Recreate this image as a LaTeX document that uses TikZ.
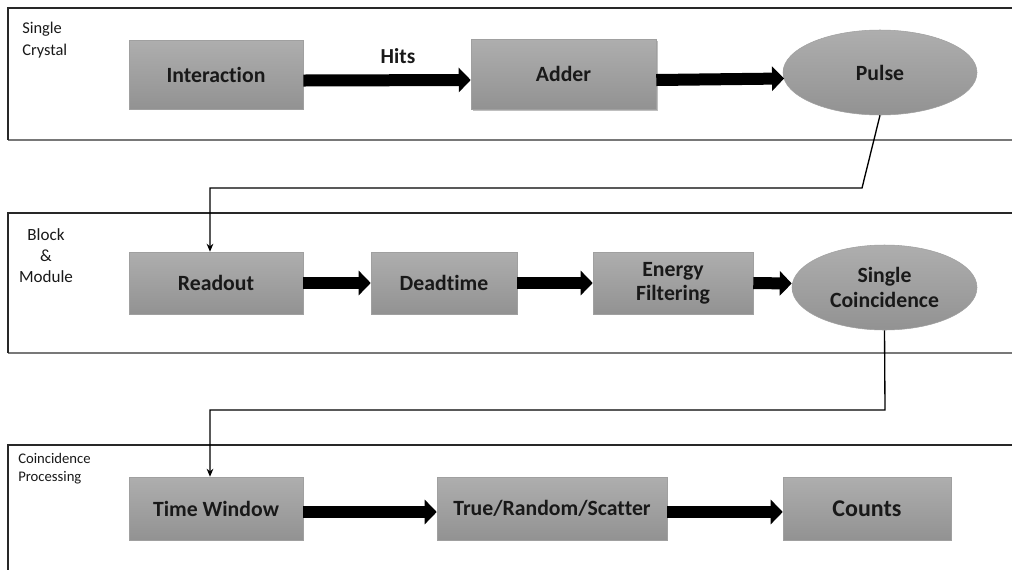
\documentclass[tikz,border=0pt]{standalone}
\usepackage{fontspec}
\setmainfont{Carlito}[Ligatures={NoCommon}]
\usetikzlibrary{arrows.meta,shapes.geometric,shadows}
\definecolor{boxtop}{RGB}{174,174,174}
\definecolor{boxbot}{RGB}{146,146,146}
\definecolor{boxedge}{RGB}{160,160,160}
\definecolor{txt}{RGB}{25,25,25}
\definecolor{paneltop}{RGB}{40,40,40}
\definecolor{panelbot}{RGB}{120,120,120}
\begin{document}
\begin{tikzpicture}[x=0.75pt,y=-0.75pt,
  stage/.style={rectangle, draw=boxedge, line width=0.4pt, top color=boxtop, bottom color=boxbot,
    text=txt, font=\bfseries\fontsize{16.3}{18}\selectfont, align=center, inner sep=0pt},
  oval/.style={ellipse, draw=boxedge, line width=0.4pt, top color=boxtop, bottom color=boxbot,
    text=txt, font=\bfseries\fontsize{16.3}{18.5}\selectfont, align=center, inner sep=0pt},
  panellabel/.style={text=txt, inner sep=0pt, font=\fontsize{12.3}{16.5}\selectfont},
  bigarrow/.style={line width=9pt, black, -{Triangle[length=9pt, width=18pt]}},
  connarrow/.style={line width=1pt, black, -{Stealth[length=6pt, width=5pt]}}
]
\clip (0,0) rectangle (1012,569);
\fill[white] (0,0) rectangle (1012,569);

% panels
\draw[panelbot, line width=0.9pt] (8,140) -- (1020,140);
\draw[paneltop, line width=0.9pt] (1020,8) -- (8,8) -- (8,140);
\draw[panelbot, line width=0.9pt] (8,353) -- (1020,353);
\draw[paneltop, line width=0.9pt] (1020,213) -- (8,213) -- (8,353);
\draw[paneltop, line width=0.9pt] (1020,445) -- (8,445) -- (8,580);

% panel labels
\node[panellabel, anchor=north west, align=left] (lab1) at (22,22) {Single\\Crystal};
\node[panellabel, anchor=north, align=center, font=\fontsize{12.8}{16}\selectfont] (lab2) at (46,228) {Block\\\&\\Module};
\node[panellabel, anchor=north west, align=left, font=\fontsize{11}{13.5}\selectfont] (lab3) at (18,453) {Coincidence\\Processing};

% row 1
\node[stage, minimum width=130.5pt, minimum height=51.75pt] (inter) at (216,74.5) {Interaction};
\node[stage, minimum width=138.75pt, minimum height=52.5pt,
  drop shadow={shadow xshift=1.2pt, shadow yshift=-1.5pt, opacity=0.25, fill=black}] (adder) at (563.5,74) {Adder};
\node[oval, minimum width=145.5pt, minimum height=63.75pt] (pulse) at (880,72.5) {Pulse};
\node[text=txt, font=\bfseries\fontsize{16}{18}\selectfont, inner sep=0pt] (hits) at (398,56) {Hits};

\draw[bigarrow] ([yshift=-4.5pt]inter.east) -- ([yshift=-4.5pt]adder.west);
\draw[bigarrow] ([yshift=-4.5pt]adder.east) -- ([yshift=-4.5pt,xshift=1pt]pulse.west);

% row 2
\node[stage, minimum width=130.5pt, minimum height=46.5pt] (readout) at (216,283) {Readout};
\node[stage, minimum width=109.5pt, minimum height=46.5pt] (dead) at (444,283) {Deadtime};
\node[stage, minimum width=120pt, minimum height=46.5pt] (energy) at (673,283) {Energy\\Filtering};
\node[oval, minimum width=138.75pt, minimum height=63.75pt] (single) at (884.5,287.5) {Single\\Coincidence};

\draw[bigarrow] (readout.east) -- (dead.west);
\draw[bigarrow] (dead.east) -- (energy.west);
\draw[bigarrow] (energy.east) -- ([yshift=3pt]single.west);

% row 3
\node[stage, minimum width=130.5pt, minimum height=47.25pt] (window) at (216,508.5) {Time Window};
\node[stage, minimum width=172.5pt, minimum height=47.25pt] (trs) at (552,508.5) {True/Random/Scatter};
\node[stage, minimum width=126pt, minimum height=47.25pt, font=\bfseries\fontsize{18}{20}\selectfont] (counts) at (867,508.5) {Counts};

\draw[bigarrow] ([yshift=-2.6pt]window.east) -- ([yshift=-2.6pt]trs.west);
\draw[bigarrow] ([yshift=-2.6pt]trs.east) -- ([yshift=-2.6pt]counts.west);

% connectors between panels
\coordinate (k1) at (862,188);
\coordinate (k2) at (210,188);
\draw[connarrow] (pulse.south) -- (k1) -- (k2) -- (k2 |- readout.north);

\coordinate (k3) at (885,410);
\coordinate (k4) at (210,410);
\draw[connarrow] (single.south) -- (k3) -- (k4) -- (k4 |- window.north);
\end{tikzpicture}
\end{document}
